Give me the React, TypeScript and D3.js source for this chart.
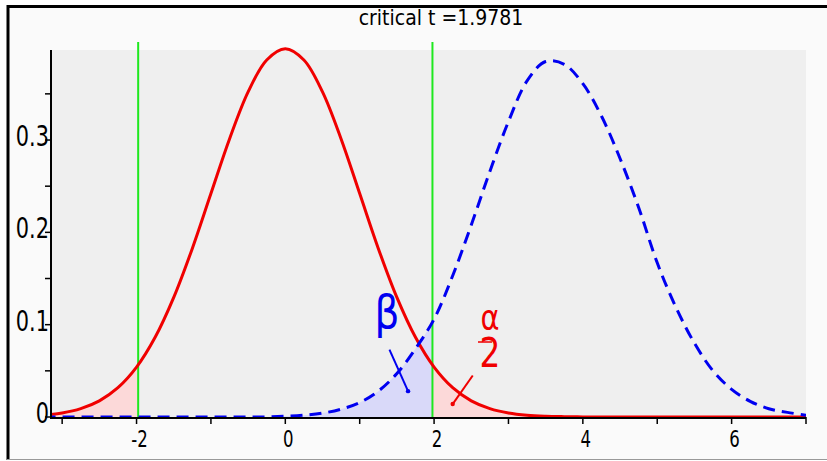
import { useEffect, useRef } from 'react'
import * as d3 from 'd3'

const tGrid = [
  -3.25, -3, -2.75, -2.5, -2.25, -2, -1.75, -1.5, -1.25, -1, -0.75, -0.5, -0.25,
  0, 0.25, 0.5, 0.75, 1, 1.25, 1.5, 1.75, 2, 2.25, 2.5, 2.75, 3, 3.25, 3.5, 3.75,
  4, 4.25, 4.5, 4.75, 5, 5.25, 5.5, 5.75, 6, 6.25, 6.5, 6.75, 7,
]

// null distribution (red, solid)
const nullDensity = [
  0.002, 0.0044, 0.0091, 0.0175, 0.0317, 0.054, 0.0863, 0.1295, 0.1826, 0.242, 0.3011, 0.3521, 0.3867,
  0.3989, 0.3867, 0.3521, 0.3011, 0.242, 0.1826, 0.1295, 0.0863, 0.054, 0.0317, 0.0175, 0.0091, 0.0044, 0.002, 0.0009, 0.0004,
  0.0001, 0, 0, 0, 0, 0, 0, 0, 0, 0, 0, 0, 0,
]

// alternative distribution (blue, dashed)
const altDensity = [
  0, 0, 0, 0, 0, 0, 0, 0, 0, 0, 0, 0, 0.0001,
  0.0008, 0.002, 0.0042, 0.0085, 0.0157, 0.028, 0.047, 0.074, 0.106, 0.153, 0.208, 0.266, 0.32, 0.364, 0.385, 0.382,
  0.361, 0.326, 0.28, 0.227, 0.167, 0.119, 0.08, 0.05, 0.03, 0.017, 0.009, 0.005, 0.002,
]

const criticalT = 1.9781
const xTicks = [-3, -2, -1, 0, 1, 2, 3, 4, 5, 6, 7]
const xLabels = [-2, 0, 2, 4, 6]
const yTicks = [0, 0.05, 0.1, 0.15, 0.2, 0.25, 0.3, 0.35]
const yLabels = [0, 0.1, 0.2, 0.3]

const FONT = "'DejaVu Sans', sans-serif"

export default function App() {
  const svgRef = useRef<SVGSVGElement | null>(null)
  const width = 827
  const height = 461

  useEffect(() => {
    if (!svgRef.current) return
    const svg = d3.select(svgRef.current)
    svg.selectAll('*').remove()

    const plot = { left: 51, right: 806, top: 50, bottom: 417 }
    const x = d3.scaleLinear().domain([-3.15, 7]).range([plot.left, plot.right])
    const y = d3.scaleLinear().domain([0, 0.3975]).range([plot.bottom, plot.top])

    const pts = (vals: number[]) => tGrid.map((t, i) => [t, vals[i]] as [number, number])

    // narrow, tall text like the original output
    const label = (tx: number, ty: number, txt: string, size: number, sx: number, anchor: string, fill = '#000') =>
      svg.append('text')
        .attr('transform', `translate(${tx},${ty}) scale(${sx},1)`)
        .attr('text-anchor', anchor)
        .attr('font-family', FONT).attr('font-size', size)
        .attr('fill', fill)
        .text(txt)

    // frame
    svg.append('rect').attr('width', width).attr('height', height).attr('fill', '#fff')
    svg.append('rect').attr('x', 8).attr('y', 6).attr('width', width - 8).attr('height', 453).attr('fill', '#fafafa')
    svg.append('line').attr('x1', 7).attr('x2', width).attr('y1', 6.5).attr('y2', 6.5).attr('stroke', '#000').attr('stroke-width', 3)
    svg.append('line').attr('x1', 8).attr('x2', 8).attr('y1', 5).attr('y2', 460).attr('stroke', '#000').attr('stroke-width', 3)
    svg.append('line').attr('x1', 7).attr('x2', width).attr('y1', 459.5).attr('y2', 459.5).attr('stroke', '#999').attr('stroke-width', 1)

    // plot background
    svg.append('rect')
      .attr('x', plot.left).attr('y', plot.top)
      .attr('width', plot.right - plot.left).attr('height', plot.bottom - plot.top)
      .attr('fill', '#efefef')

    const defs = svg.append('defs')
    const clip = (id: string, x0: number, x1: number) => {
      defs.append('clipPath').attr('id', id).append('rect')
        .attr('x', x(x0)).attr('y', 0).attr('width', x(x1) - x(x0)).attr('height', y(0))
    }
    clip('clip-all', -3.15, 7)
    clip('clip-left', -3.15, -criticalT)
    clip('clip-right', criticalT, 7)
    clip('clip-beta', -3.15, criticalT)

    const curve = d3.curveCatmullRom.alpha(0.5)
    const area = d3.area<[number, number]>()
      .x(d => x(d[0])).y0(y(0)).y1(d => y(d[1]))
      .curve(curve)
    const line = d3.line<[number, number]>()
      .x(d => x(d[0])).y(d => y(d[1]))
      .curve(curve)

    // shaded tails
    svg.append('path').datum(pts(altDensity)).attr('d', area)
      .attr('fill', '#d9d9f9').attr('clip-path', 'url(#clip-beta)')
    svg.append('path').datum(pts(nullDensity)).attr('d', area)
      .attr('fill', '#fcd9d9').attr('clip-path', 'url(#clip-left)')
    svg.append('path').datum(pts(nullDensity)).attr('d', area)
      .attr('fill', '#fcd9d9').attr('clip-path', 'url(#clip-right)')

    // critical value lines
    ;[-criticalT, criticalT].forEach(c => {
      svg.append('line')
        .attr('x1', x(c)).attr('x2', x(c)).attr('y1', 42).attr('y2', plot.bottom)
        .attr('stroke', '#1ee81e').attr('stroke-width', 2)
    })

    // curves
    svg.append('path').datum(pts(nullDensity)).attr('d', line)
      .attr('fill', 'none').attr('stroke', '#f00000').attr('stroke-width', 3)
      .attr('clip-path', 'url(#clip-all)')
    svg.append('path').datum(pts(altDensity)).attr('d', line)
      .attr('fill', 'none').attr('stroke', '#0000f0').attr('stroke-width', 3)
      .attr('stroke-dasharray', '12,7')
      .attr('clip-path', 'url(#clip-all)')

    // x axis
    svg.append('line')
      .attr('x1', plot.left).attr('x2', plot.right).attr('y1', plot.bottom + 1).attr('y2', plot.bottom + 1)
      .attr('stroke', '#000').attr('stroke-width', 2)
    xTicks.forEach(t => {
      svg.append('line')
        .attr('x1', x(t)).attr('x2', x(t)).attr('y1', plot.bottom).attr('y2', plot.bottom + 7)
        .attr('stroke', '#000').attr('stroke-width', 1.5)
    })
    xLabels.forEach(t => {
      label(x(t) + 3, 447, t < 0 ? `-${Math.abs(t)}` : `${t}`, 23, 0.72, 'middle')
    })

    // y axis
    svg.append('line')
      .attr('x1', plot.left).attr('x2', plot.left).attr('y1', plot.top).attr('y2', plot.bottom + 2)
      .attr('stroke', '#000').attr('stroke-width', 2)
    yTicks.forEach(v => {
      svg.append('line')
        .attr('x1', plot.left - 6).attr('x2', plot.left).attr('y1', y(v)).attr('y2', y(v))
        .attr('stroke', '#000').attr('stroke-width', 1.5)
    })
    yLabels.forEach(v => {
      label(49, y(v) + 6, v === 0 ? '0' : `${v}`, 29, 0.72, 'end')
    })

    // title
    label(441, 25, `critical t =${criticalT}`, 21, 0.9, 'middle')

    // beta annotation
    label(387, 328, 'β', 46, 0.85, 'middle', '#0000f0')
    svg.append('line')
      .attr('x1', x(1.4)).attr('y1', y(0.073)).attr('x2', x(1.65)).attr('y2', y(0.028))
      .attr('stroke', '#0000f0').attr('stroke-width', 2)
    svg.append('circle').attr('cx', x(1.65)).attr('cy', y(0.028)).attr('r', 2.2).attr('fill', '#0000f0')

    // alpha / 2 annotation, one text with a numerator and denominator
    const frac = svg.append('text')
      .attr('transform', 'translate(490,0) scale(0.8,1)')
      .attr('text-anchor', 'middle')
      .attr('font-family', FONT)
      .attr('fill', '#f00000')
    frac.append('tspan').attr('x', 0).attr('y', 330).attr('font-size', 36).text('α')
    frac.append('tspan').attr('x', 0).attr('y', 367).attr('font-size', 41).text('2')
    svg.append('line')
      .attr('x1', 478).attr('x2', 492).attr('y1', 342).attr('y2', 342)
      .attr('stroke', '#f00000').attr('stroke-width', 1.5)
    svg.append('line')
      .attr('x1', x(2.52)).attr('y1', y(0.045)).attr('x2', x(2.25)).attr('y2', y(0.014))
      .attr('stroke', '#f00000').attr('stroke-width', 2)
    svg.append('circle').attr('cx', x(2.25)).attr('cy', y(0.014)).attr('r', 2.2).attr('fill', '#f00000')
  }, [])

  return (
    <svg
      ref={svgRef}
      width={width}
      height={height}
      style={{ position: 'absolute', left: 0, top: 0, display: 'block' }}
    />
  )
}
